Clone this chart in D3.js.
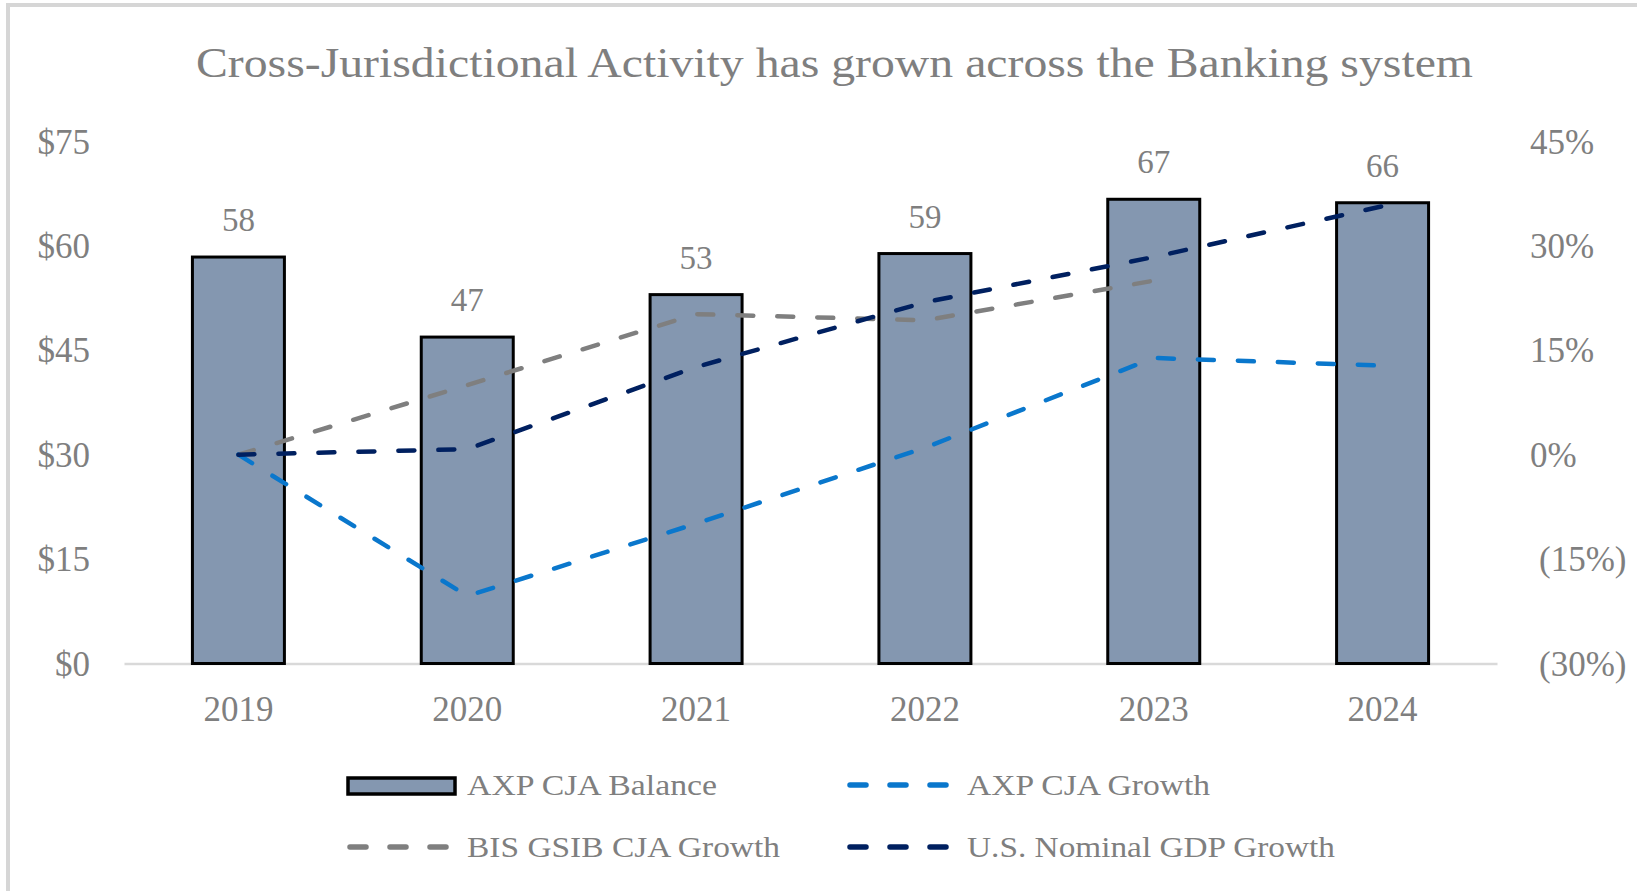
<!DOCTYPE html>
<html>
<head>
<meta charset="utf-8">
<script src="https://cdn.jsdelivr.net/npm/d3@7"></script>
<style>
  html, body { margin: 0; padding: 0; background: #fff; }
  svg { display: block; }
  text { font-family: "Liberation Serif", "Times New Roman", serif; fill: #7f7f7f; }
</style>
</head>
<body>
<svg id="chart" width="1637" height="891"></svg>
<script>
// ---- data ----
const years = ["2019", "2020", "2021", "2022", "2023", "2024"];
const axpBalance = [58.4, 46.9, 53.0, 58.9, 66.7, 66.2];
const axpGrowth = [0, -20.3, -9.9, 1.0, 13.9, 12.8];
const bisGrowth = [0, 10.0, 20.2, 19.3, 25.0, null];
const gdpGrowth = [0, 0.8, 12.6, 21.9, 28.4, 35.7];
const leftTicks = [0, 15, 30, 45, 60, 75];
const rightTicks = [-30, -15, 0, 15, 30, 45];
const titleText = "Cross-Jurisdictional  Activity  has grown across the Banking  system";

const svg = d3.select("#chart");

// frame
svg.append("path")
  .attr("d", "M8,891 L8,5 L1637,5")
  .attr("fill", "none").attr("stroke", "#d6d6d6").attr("stroke-width", 4);

const x = d3.scaleBand().domain(years).range([124, 1497]).paddingInner(0.598).paddingOuter(0.299);
const yL = d3.scaleLinear().domain([0, 75]).range([663.5, 141.5]);
const yR = d3.scaleLinear().domain([-30, 45]).range([663.5, 141.5]);

// title
svg.append("text")
  .attr("x", 196).attr("y", 77)
  .attr("font-size", 42)
  .attr("textLength", 1277).attr("lengthAdjust", "spacingAndGlyphs")
  .text(titleText);

// left axis
const gL = svg.append("g").attr("transform", "translate(90,0)")
  .call(d3.axisLeft(yL).tickValues(leftTicks).tickSize(0).tickPadding(0).tickFormat(d => "$" + d));
gL.select(".domain").remove();
gL.selectAll("text").attr("font-size", 35).attr("fill", "#7f7f7f").attr("dy", "0.33em")
  .style("font-family", '"Liberation Serif", serif');

// right axis
const gR = svg.append("g").attr("transform", "translate(1530,0)")
  .call(d3.axisRight(yR).tickValues(rightTicks).tickSize(0).tickPadding(0)
    .tickFormat(d => d < 0 ? "(" + Math.abs(d) + "%)" : d + "%"));
gR.select(".domain").remove();
gR.selectAll("text").attr("font-size", 35).attr("fill", "#7f7f7f").attr("dy", "0.33em")
  .attr("x", d => d < 0 ? 9 : 0)
  .style("font-family", '"Liberation Serif", serif');

// x axis
const gX = svg.append("g").attr("transform", "translate(0,663.5)")
  .call(d3.axisBottom(x).tickSize(0).tickPadding(0));
gX.select(".domain").attr("stroke", "#d9d9d9").attr("stroke-width", 2.5);
gX.selectAll("text").attr("font-size", 35).attr("fill", "#7f7f7f").attr("dy", 0).attr("y", 57)
  .style("font-family", '"Liberation Serif", serif');

// bars
svg.append("g").selectAll("rect").data(years).join("rect")
  .attr("x", d => x(d)).attr("width", x.bandwidth())
  .attr("y", (d, i) => yL(axpBalance[i]))
  .attr("height", (d, i) => yL(0) - yL(axpBalance[i]))
  .attr("fill", "#8497b0").attr("stroke", "#000").attr("stroke-width", 3);

// data labels
svg.append("g").selectAll("text").data(years).join("text")
  .attr("x", d => x(d) + x.bandwidth() / 2)
  .attr("y", (d, i) => yL(axpBalance[i]) - 26)
  .attr("text-anchor", "middle").attr("font-size", 33)
  .text((d, i) => Math.round(axpBalance[i]));

// lines
const cx = d => x(d) + x.bandwidth() / 2;
function drawLine(vals, color) {
  const pts = years.map((d, i) => [d, vals[i]]).filter(p => p[1] !== null);
  const line = d3.line().x(p => cx(p[0])).y(p => yR(p[1]));
  svg.append("path").datum(pts).attr("d", line)
    .attr("fill", "none").attr("stroke", color).attr("stroke-width", 4.5)
    .attr("stroke-dasharray", "16,24").attr("stroke-linecap", "round").attr("stroke-linejoin", "round");
}
drawLine(bisGrowth, "#7f7f7f");
drawLine(axpGrowth, "#0a77cc");
drawLine(gdpGrowth, "#002060");

// legend
const lg = svg.append("g");
lg.append("rect").attr("x", 348).attr("y", 778).attr("width", 107).attr("height", 16)
  .attr("fill", "#8497b0").attr("stroke", "#000").attr("stroke-width", 3.5);
const legendItems = [
  { label: "AXP CJA Balance", x: 467, y: 795, w: 250, color: null },
  { label: "AXP CJA Growth", x: 967, y: 795, w: 243, color: "#0a77cc" },
  { label: "BIS GSIB CJA Growth", x: 467, y: 857, w: 313, color: "#7f7f7f" },
  { label: "U.S. Nominal GDP Growth", x: 967, y: 857, w: 368, color: "#002060" }
];
legendItems.forEach(it => {
  if (it.color) {
    lg.append("line").attr("x1", it.x - 117).attr("x2", it.x - 14)
      .attr("y1", it.y - 10).attr("y2", it.y - 10)
      .attr("stroke", it.color).attr("stroke-width", 5.5)
      .attr("stroke-dasharray", "16,24").attr("stroke-linecap", "round");
  }
  lg.append("text").attr("x", it.x).attr("y", it.y).attr("font-size", 29)
    .attr("textLength", it.w).attr("lengthAdjust", "spacingAndGlyphs")
    .text(it.label);
});
</script>
</body>
</html>
